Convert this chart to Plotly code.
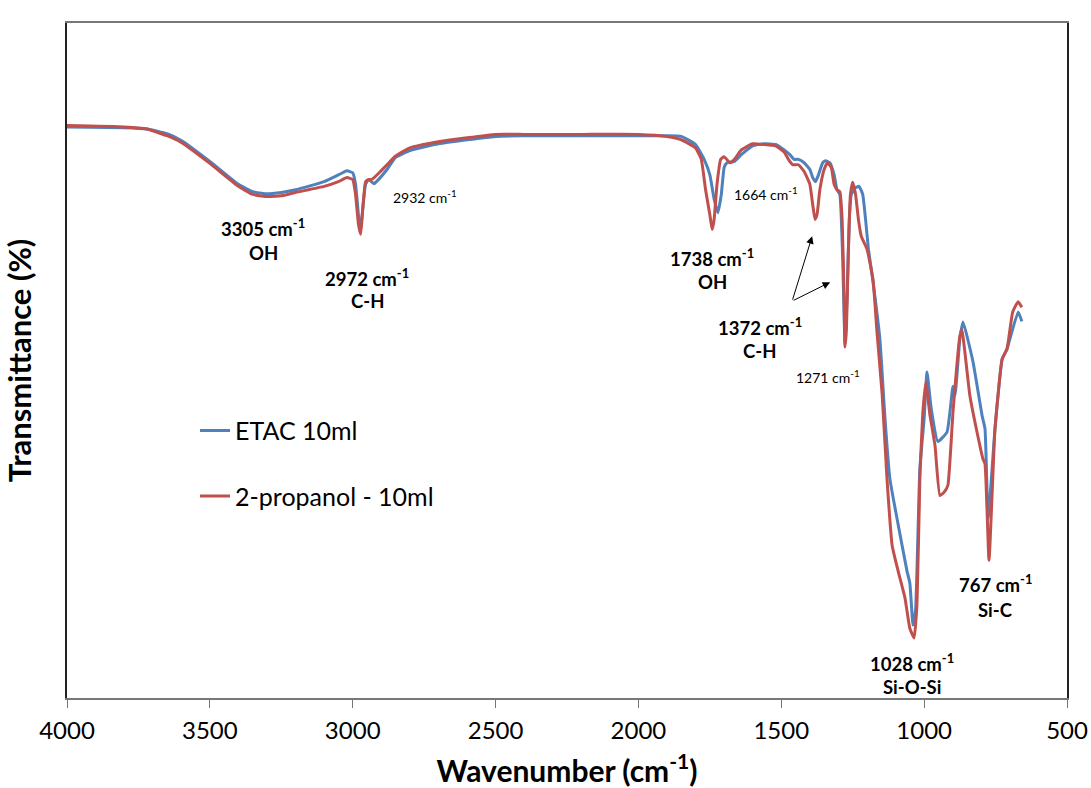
import plotly.graph_objects as go

# ETAC 10ml (blue)
wn_etac = [4000, 3800, 3720, 3650, 3600, 3500, 3400, 3350, 3305, 3250, 3200, 3100, 3050, 3020, 3000,
           2990, 2980, 2972, 2965, 2955, 2945, 2935, 2925, 2910, 2880, 2850, 2800, 2700, 2600, 2500,
           2400, 2200, 2000, 1900, 1850, 1800, 1770, 1750, 1735, 1722, 1710, 1700, 1690, 1664, 1640,
           1600, 1560, 1520, 1490, 1470, 1455, 1440, 1420, 1400, 1390, 1380, 1370, 1355, 1345, 1330,
           1315, 1305, 1295, 1285, 1277, 1270, 1262, 1255, 1240, 1228, 1215, 1205, 1195, 1180, 1155,
           1137, 1120, 1095, 1060, 1050, 1039, 1030, 1015, 1000, 990, 975, 952, 920, 899, 892,
           875, 864, 829, 797, 787, 776, 752, 727, 710, 671, 658]
t_etac = [84.6, 84.5, 84.3, 83.6, 82.6, 79.5, 76.1, 75.0, 74.7, 74.9, 75.3, 76.5, 77.5, 78.1, 77.8,
          76.1, 71.6, 69.4, 72.4, 76.1, 76.8, 76.5, 76.2, 76.8, 78.3, 80.1, 81.1, 82.1, 82.7, 83.2,
          83.3, 83.3, 83.3, 83.3, 83.2, 82.0, 79.8, 77.5, 73.9, 71.9, 74.6, 78.6, 79.3, 79.5, 80.5,
          81.8, 82.1, 82.0, 81.2, 80.5, 79.8, 79.8, 79.3, 78.3, 77.1, 76.5, 77.5, 79.3, 79.6, 79.3,
          77.5, 75.3, 74.6, 65.0, 52.4, 59.1, 70.9, 74.6, 75.6, 75.8, 74.6, 70.9, 66.5, 62.0, 53.2,
          41.4, 32.5, 26.6, 18.8, 17.0, 10.8, 13.0, 34.0, 41.4, 48.3, 42.8, 38.0, 39.4, 46.2, 44.8,
          53.2, 55.7, 49.8, 41.8, 39.9, 26.6, 39.9, 50.2, 51.7, 57.2, 55.8]

# 2-propanol - 10ml (red)
wn_prop = [4000, 3800, 3720, 3650, 3600, 3500, 3400, 3350, 3305, 3250, 3200, 3100, 3050, 3020, 3000,
           2990, 2980, 2972, 2965, 2955, 2945, 2935, 2925, 2910, 2880, 2850, 2800, 2700, 2600, 2500,
           2400, 2200, 2000, 1900, 1850, 1800, 1780, 1765, 1750, 1742, 1735, 1725, 1712, 1700, 1680,
           1664, 1640, 1600, 1560, 1520, 1490, 1475, 1460, 1440, 1420, 1400, 1390, 1382, 1375, 1365,
           1350, 1338, 1325, 1315, 1305, 1295, 1287, 1280, 1277, 1272, 1265, 1258, 1250, 1240, 1230,
           1220, 1200, 1179, 1165, 1147, 1130, 1112, 1091, 1067, 1050, 1035, 1025, 1015, 1005, 994,
           980, 962, 945, 930, 917, 899, 875, 868, 840, 815, 794, 787, 773, 752, 727,
           710, 690, 671, 658]
t_prop = [84.8, 84.6, 84.3, 83.3, 82.3, 79.2, 75.8, 74.6, 74.3, 74.4, 74.9, 75.8, 76.5, 77.1, 76.8,
          74.6, 70.2, 68.7, 72.4, 76.5, 76.8, 76.8, 77.1, 77.7, 79.0, 80.3, 81.5, 82.4, 83.0, 83.5,
          83.5, 83.5, 83.5, 83.2, 82.7, 81.5, 79.8, 75.3, 71.6, 69.4, 70.9, 76.1, 79.8, 80.2, 79.3,
          79.8, 81.2, 82.1, 82.0, 81.8, 80.9, 79.8, 79.0, 79.0, 78.0, 76.1, 73.1, 70.9, 71.6, 75.3,
          78.3, 79.3, 78.6, 76.1, 75.3, 75.0, 70.9, 59.1, 52.0, 54.6, 66.5, 74.6, 76.4, 74.6, 70.9,
          68.4, 66.5, 62.0, 54.2, 45.0, 32.5, 22.6, 18.8, 14.8, 10.3, 8.9, 14.0, 32.5, 42.0, 46.8,
          42.0, 37.4, 30.0, 30.5, 31.5, 42.4, 53.6, 54.6, 44.8, 39.4, 35.4, 34.7, 20.4, 39.9, 50.2,
          51.7, 57.2, 58.7, 57.9]

x_ticks = [4000, 3500, 3000, 2500, 2000, 1500, 1000, 500]

# peak labels: (wavenumber, y, text, bold)
peak_labels = [
    (3314, 69.7, "3305 cm<sup>-1</sup>", True), (3314, 65.9, "OH", True),
    (2950, 62.3, "2972 cm<sup>-1</sup>", True), (2950, 58.8, "C-H", True),
    (2747, 74.3, "2932 cm<sup>-1</sup>", False),
    (1742, 65.3, "1738 cm<sup>-1</sup>", True), (1742, 61.6, "OH", True),
    (1554, 74.7, "1664 cm<sup>-1</sup>", False),
    (1575, 55.1, "1372 cm<sup>-1</sup>", True), (1575, 51.4, "C-H", True),
    (1336, 47.7, "1271 cm<sup>-1</sup>", False),
    (1042, 5.3, "1028 cm<sup>-1</sup>", True), (1042, 1.6, "Si-O-Si", True),
    (752, 17.0, "767 cm<sup>-1</sup>", True), (752, 13.1, "Si-C", True),
]
arrow_tail = (1462, 58.8)
arrow_heads = [(1392, 68.4), (1329, 61.6)]

FONT = "Lato, 'Liberation Sans', sans-serif"

fig = go.Figure()
fig.add_trace(go.Scatter(x=wn_etac, y=t_etac, mode="lines", name="ETAC 10ml",
                         line=dict(color="#4F81BD", width=3, shape="spline", smoothing=0.4),
                         legendgroup="a"))
fig.add_trace(go.Scatter(x=wn_prop, y=t_prop, mode="lines", name="2-propanol - 10ml",
                         line=dict(color="#C0504D", width=3, shape="spline", smoothing=0.4),
                         legendgroup="b"))

annotations = []
for x, y, txt, bold in peak_labels:
    annotations.append(dict(x=x, y=y, xref="x", yref="y", showarrow=False,
                            text=f"<b>{txt}</b>" if bold else txt,
                            font=dict(size=18.5 if bold else 14, color="black", family=FONT)))
for hx, hy in arrow_heads:
    annotations.append(dict(x=hx, y=hy, ax=arrow_tail[0], ay=arrow_tail[1], xref="x", yref="y",
                            axref="x", ayref="y", text="", showarrow=True, arrowhead=2,
                            arrowsize=1.5, arrowwidth=1, arrowcolor="black"))

fig.update_layout(
    width=1091, height=788,
    margin=dict(l=67, r=24, t=23, b=90),
    paper_bgcolor="white", plot_bgcolor="white",
    font=dict(family=FONT, color="black"),
    showlegend=True,
    legend=dict(x=0.128, y=0.43, xanchor="left", yanchor="top", bgcolor="rgba(0,0,0,0)",
                font=dict(size=25, family=FONT), traceorder="grouped", tracegroupgap=30),
    annotations=annotations,
    xaxis=dict(range=[4000, 500], tickvals=x_ticks, ticks="outside", ticklen=8,
               tickcolor="#777", showline=True, linecolor="#777", linewidth=1.5, mirror=True,
               showgrid=False, zeroline=False, tickfont=dict(size=24, family=FONT),
               ticklabelstandoff=2, automargin=False,
               title=dict(text="<b>Wavenumber (cm<sup>-1</sup>)</b>", font=dict(size=30, family=FONT),
                          standoff=18)),
    yaxis=dict(range=[0, 100], showticklabels=False, ticks="", showline=True, linecolor="#222",
               linewidth=1.5, mirror=True, showgrid=False, zeroline=False, automargin=False,
               title=dict(text="<b>Transmittance (%)</b>", font=dict(size=31, family=FONT), standoff=25)),
)

fig.write_html("out.html")
